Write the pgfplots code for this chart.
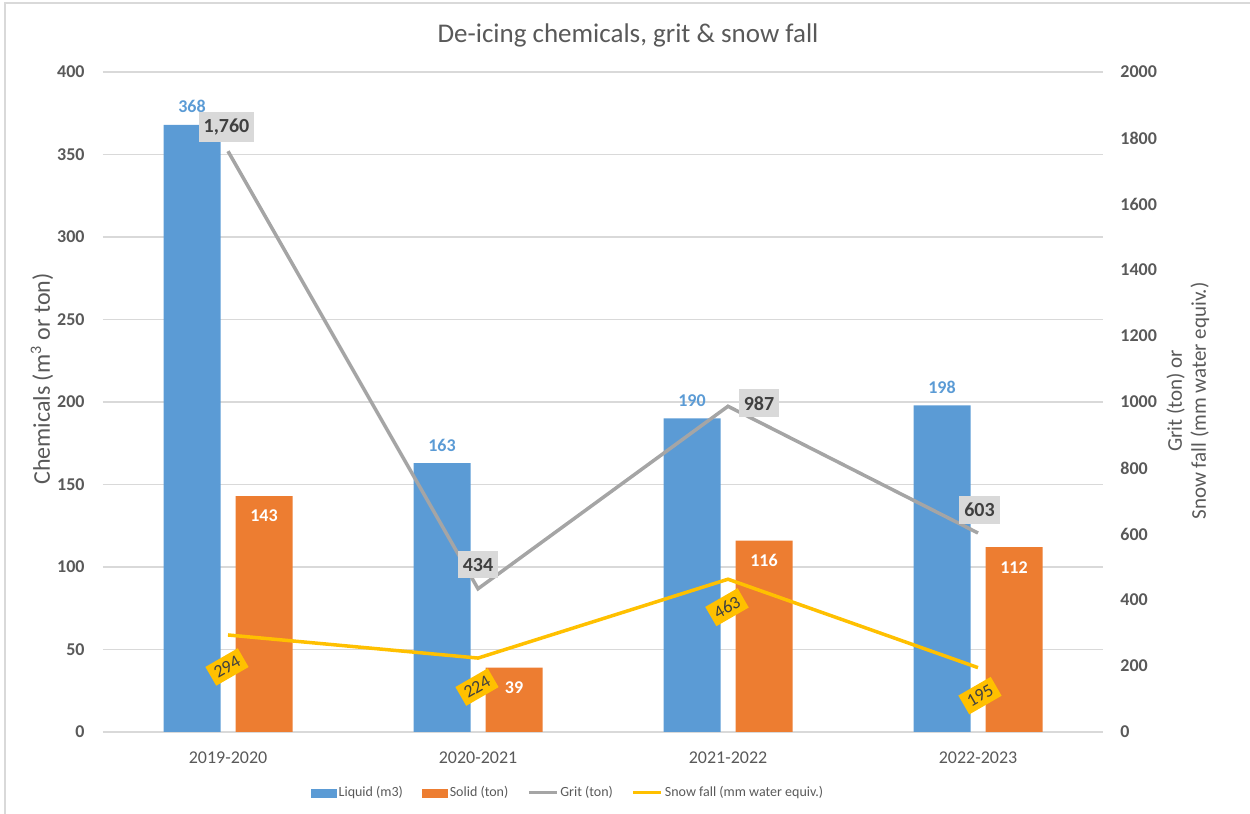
\documentclass[border=0pt]{standalone}
\usepackage{fontspec}
\setmainfont{Carlito}
\usepackage{pgfplots}
\usepackage{pgfplotstable}
\pgfplotsset{compat=1.18}
\definecolor{liq}{HTML}{5B9BD5}
\definecolor{sol}{HTML}{ED7D31}
\definecolor{grit}{HTML}{A5A5A5}
\definecolor{snow}{HTML}{FFC000}
\definecolor{txt}{HTML}{595959}
\definecolor{gridc}{HTML}{D9D9D9}
\definecolor{dark}{HTML}{404040}

\pgfplotstableread{
x liquid solid
0 368 143
1 163 39
2 190 116
3 198 112
}\chemdata
\pgfplotstableread{
x grit dx dy
0 1760 -0.75 12
1 434 0 12
2 987 15.5 1.5
3 603 0.75 11.5
}\gritdata
\pgfplotstableread{
x snow dx dy
0 294 -0.5 -16
1 224 -0.5 -14.5
2 463 -0.5 -14
3 195 1 -14
}\snowdata

\begin{document}
\begin{tikzpicture}
\pgfplotsset{common/.style={at={(51.5pt,41pt)}, anchor=south west, scale only axis,
  width=500pt, height=330pt, xmin=-0.5, xmax=3.5,
  major tick length=0pt, minor tick length=0pt,
  axis line style={draw=none},
  /pgf/number format/assume math mode=true,
  ticklabel style={font=\fontsize{9pt}{11pt}\selectfont\bfseries, text=txt}}}
\begin{axis}[common, ymin=0, ymax=400, ytick={0,50,...,400},
  ymajorgrids, grid style={gridc, line width=0.8pt},
  xtick={0,1,2,3}, xticklabels={2019-2020,2020-2021,2021-2022,2022-2023},
  xticklabel style={font=\fontsize{9pt}{11pt}\selectfont, inner sep=0pt, anchor=north, yshift=-9.5pt},
  yticklabel style={inner sep=0pt, anchor=east, xshift=-9pt},
  ybar=7.5pt, bar width=28.5pt]
\addplot[fill=liq, draw=none, nodes near coords,
  every node near coord/.append style={anchor=center, yshift=9pt, inner sep=0pt, text=liq,
    font=\fontsize{9pt}{11pt}\selectfont\bfseries}]
  table[x=x, y=liquid] {\chemdata};
\addplot[fill=sol, draw=none, nodes near coords,
  every node near coord/.append style={anchor=center, yshift=-10pt, inner sep=0pt, text=white,
    font=\fontsize{9pt}{11pt}\selectfont\bfseries}]
  table[x=x, y=solid] {\chemdata};
\end{axis}
\begin{axis}[common, ymin=0, ymax=2000, ytick={0,200,...,2000},
  axis y line*=right, axis x line=none,
  yticklabel style={inner sep=0pt, anchor=west, xshift=8.5pt, /pgf/number format/1000 sep={}},
  legend columns=4,
  legend style={at={(0.465,-0.0924)}, anchor=center, draw=none, fill=none,
    font=\fontsize{7pt}{8pt}\selectfont, text=txt, inner sep=0pt,
    /tikz/every even column/.append style={column sep=8.5pt},
    nodes={inner xsep=1pt, inner ysep=1pt}}]
\addlegendimage{legend image code/.code={\fill[liq] (0pt,-2pt) rectangle (12.5pt,2pt);}}
\addlegendentry{Liquid (m3)}
\addlegendimage{legend image code/.code={\fill[sol] (0pt,-2pt) rectangle (12.5pt,2pt);}}
\addlegendentry{Solid (ton)}
\addplot[grit, line width=1.75pt, mark=none,
  legend image code/.code={\draw[grit, line width=1.5pt] (0pt,0pt) -- (14pt,0pt);},
  nodes near coords,
  visualization depends on={\thisrow{dx} \as \dx},
  visualization depends on={\thisrow{dy} \as \dy},
  every node near coord/.append style={anchor=center, xshift=\dx pt, yshift=\dy pt,
    fill=gridc, text=dark, inner xsep=2.5pt, inner ysep=3.5pt,
    font=\fontsize{10pt}{12pt}\selectfont\bfseries}]
  table[x=x, y=grit] {\gritdata};
\addlegendentry{Grit (ton)}
\addplot[snow, line width=1.75pt, mark=none,
  legend image code/.code={\draw[snow, line width=1.5pt] (0pt,0pt) -- (14pt,0pt);},
  nodes near coords,
  visualization depends on={\thisrow{dx} \as \dx},
  visualization depends on={\thisrow{dy} \as \dy},
  every node near coord/.append style={anchor=center, xshift=\dx pt, yshift=\dy pt, rotate=30,
    fill=snow, text=dark, inner xsep=2.5pt, inner ysep=2.5pt,
    font=\fontsize{9pt}{11pt}\selectfont}]
  table[x=x, y=snow] {\snowdata};
\addlegendentry{Snow fall (mm water equiv.)}
\end{axis}
\node[font=\fontsize{13.5pt}{16pt}\selectfont, text=txt] at (314pt,389.5pt) {De-icing chemicals, grit \& snow fall};
\node[rotate=90, font=\fontsize{12pt}{14pt}\selectfont, text=txt] at (21pt,217.5pt) {Chemicals (m\textsuperscript{3} or ton)};
\node[rotate=90, align=center, font=\fontsize{10.5pt}{12pt}\selectfont, text=txt] at (594pt,206.5pt) {Grit (ton) or\\Snow fall (mm water equiv.)};
\draw[gridc, line width=0.6pt] (2.5pt,0pt) -- (2.5pt,405.5pt) -- (625pt,405.5pt);
\pgfresetboundingbox
\path[use as bounding box] (0pt,0pt) rectangle (625pt,407pt);
\end{tikzpicture}
\end{document}
